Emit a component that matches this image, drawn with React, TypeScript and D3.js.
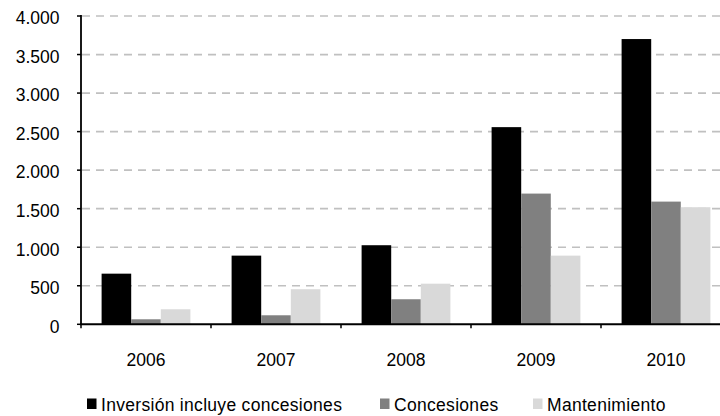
import React from "react";
import * as d3 from "d3";

const years = ["2006", "2007", "2008", "2009", "2010"];
const inversion = [657, 891, 1026, 2558, 3701];
const concesiones = [65, 117, 325, 1696, 1592];
const mantenimiento = [195, 455, 527, 891, 1519];
const seriesNames = ["Inversión incluye concesiones", "Concesiones", "Mantenimiento"];
const seriesColors = ["#000000", "#808080", "#d9d9d9"];
const yTicks = [0, 500, 1000, 1500, 2000, 2500, 3000, 3500, 4000];

const W = 720;
const H = 416;
const FONT = "'Liberation Sans', Arial, sans-serif";

export default function App() {
  const x0 = 81;
  const bandW = 130;
  const x = d3.scaleBand<string>().domain(years).range([x0, x0 + bandW * years.length]).padding(0);
  const y = d3.scaleLinear().domain([0, 4000]).range([324.3, 16]);
  const barW = 29.6;
  const series = [inversion, concesiones, mantenimiento];
  const fmt = (v: number) => d3.format(",")(v).replace(/,/g, ".");
  const legendX = [87, 380, 533];

  return (
    <svg width={W} height={H} style={{ position: "absolute", left: 0, top: 0, background: "#fff" }} fontFamily={FONT}>
      {/* gridlines */}
      {yTicks.filter((t) => t > 0).map((t) => (
        <line key={"g" + t} x1={x0} x2={W} y1={y(t)} y2={y(t)} stroke="#c0c0c0" strokeWidth={1.7} strokeDasharray="8,6" strokeDashoffset={-1} />
      ))}
      {/* bars */}
      {years.map((yr, i) => {
        const cx = (x(yr) as number) + x.bandwidth() / 2;
        const start = cx - (barW * series.length) / 2;
        return series.map((s, k) => (
          <rect key={yr + k} x={start + k * barW} y={y(s[i])} width={barW} height={y(0) - y(s[i])} fill={seriesColors[k]} />
        ));
      })}
      {/* y axis */}
      <line x1={x0} x2={x0} y1={y(4000) - 1} y2={y(0)} stroke="#000" strokeWidth={1.8} />
      {yTicks.map((t) => (
        <g key={"t" + t}>
          <line x1={x0 - 4} x2={x0} y1={y(t)} y2={y(t)} stroke="#000" strokeWidth={1.5} />
          <text x={59.5} y={y(t) + 8.3} textAnchor="end" fontSize={17.5} fill="#000">{fmt(t)}</text>
        </g>
      ))}
      {/* x axis */}
      <line x1={x0 - 1} x2={W} y1={y(0)} y2={y(0)} stroke="#000" strokeWidth={2} />
      {years.map((yr, i) => (
        <line key={"xt" + i} x1={x(yr) as number} x2={x(yr) as number} y1={y(0)} y2={y(0) + 4} stroke="#000" strokeWidth={1.5} />
      ))}
      {years.map((yr) => (
        <text key={"xl" + yr} x={(x(yr) as number) + x.bandwidth() / 2} y={366} textAnchor="middle" fontSize={17.5} fill="#000">{yr}</text>
      ))}
      {/* legend */}
      {seriesNames.map((n, k) => (
        <g key={"l" + k}>
          <rect x={legendX[k]} y={398.5} width={9.5} height={10.5} fill={seriesColors[k]} />
          <text x={legendX[k] + 14} y={411} fontSize={17.5} letterSpacing={0.3} fill="#000">{n}</text>
        </g>
      ))}
    </svg>
  );
}
